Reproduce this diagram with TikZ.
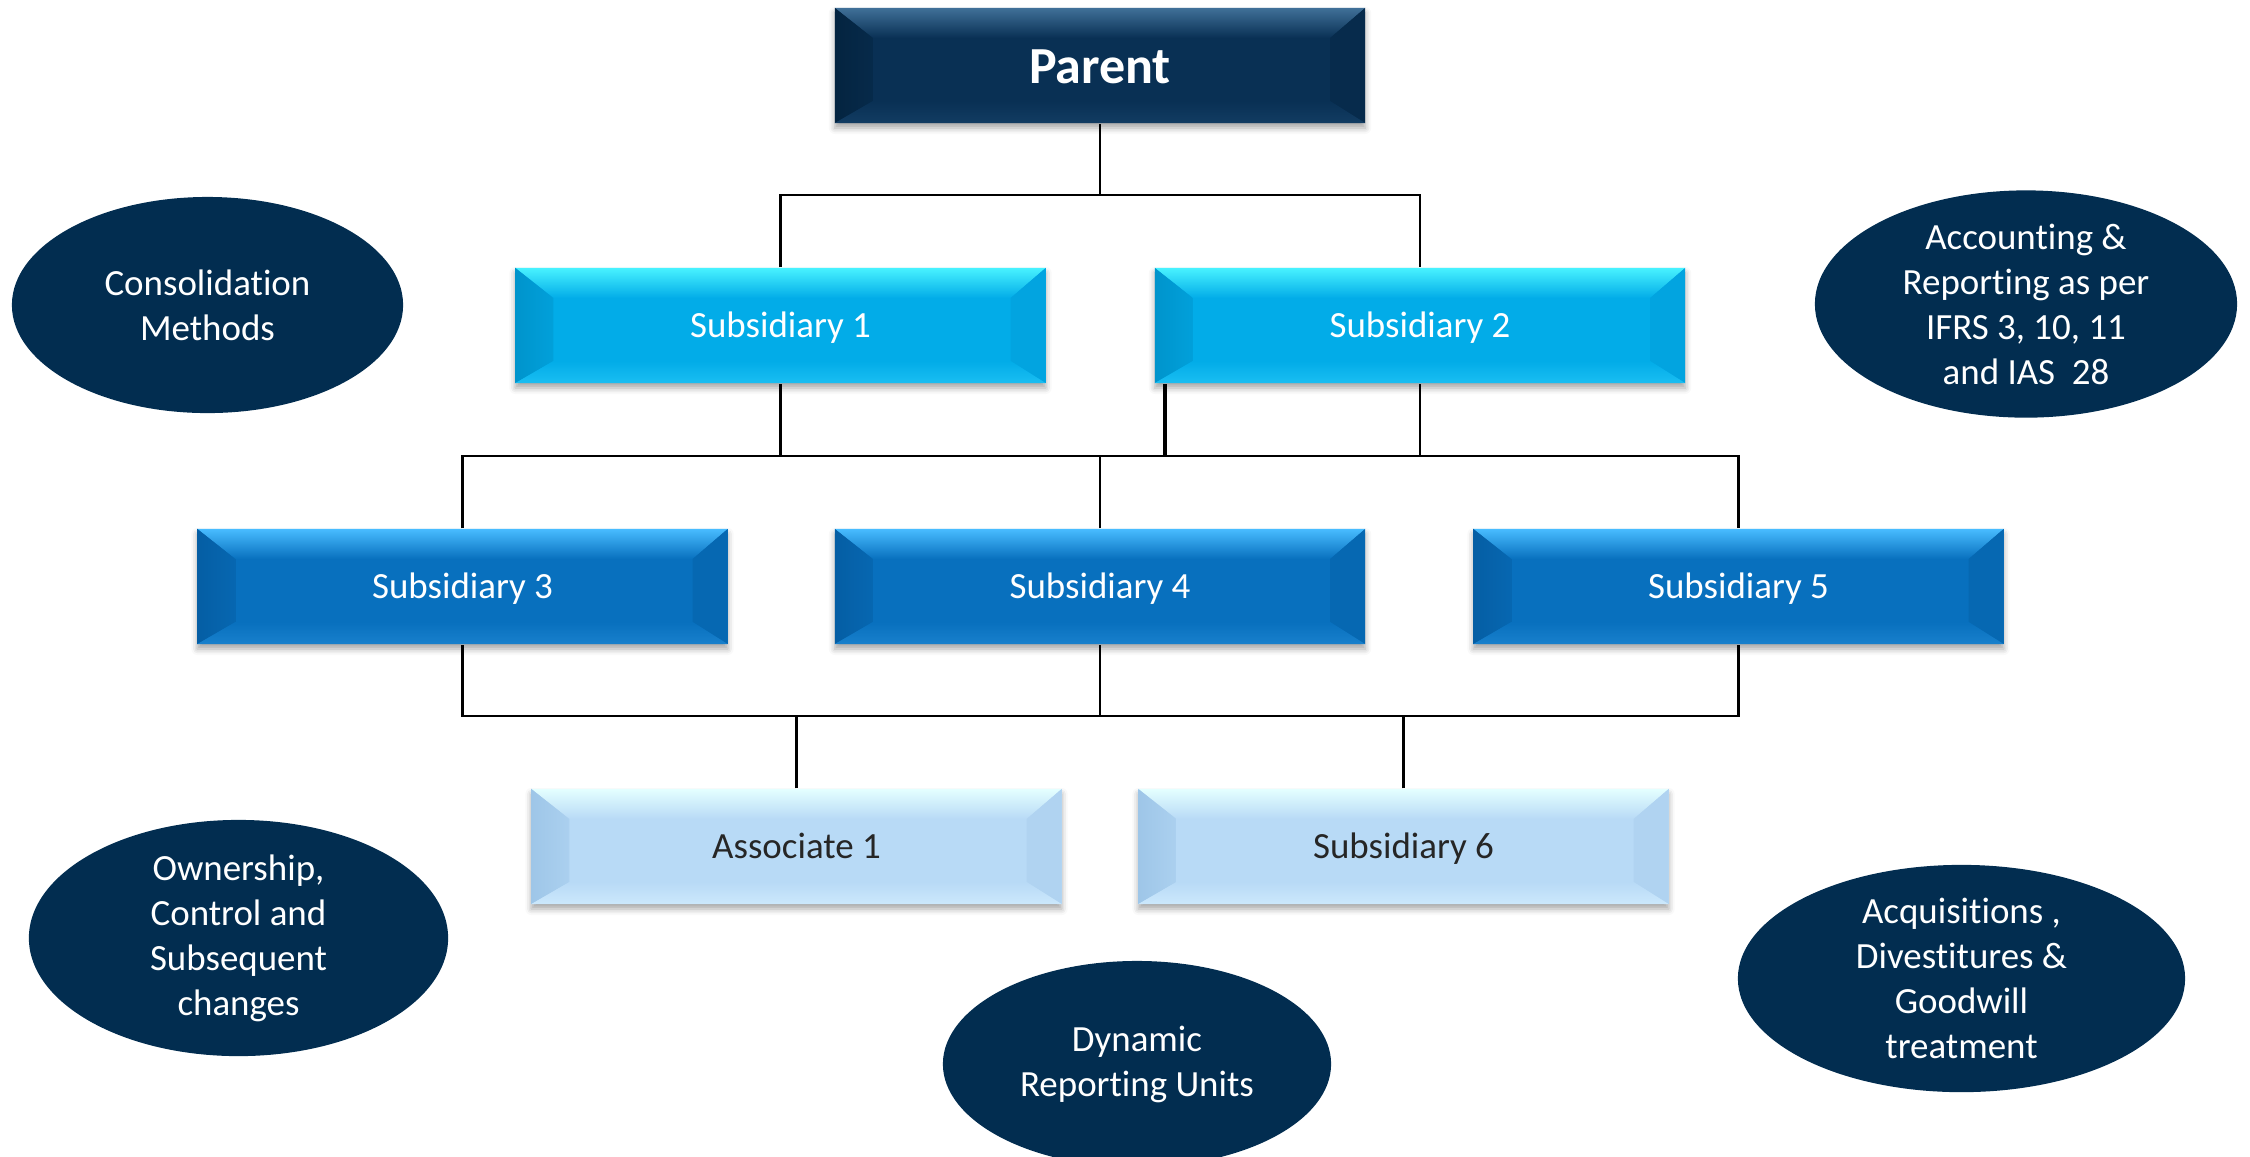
\documentclass[tikz,border=0pt]{standalone}
\usepackage{fontspec}
\setmainfont{Carlito}[Ligatures=NoCommon]
\usetikzlibrary{shapes.geometric,shadows.blur,calc}

\definecolor{navy}{RGB}{2,45,80}
\definecolor{pMain}{RGB}{9,48,84}
\definecolor{pTop}{RGB}{64,112,152}
\definecolor{pLeft}{RGB}{4,36,64}
\definecolor{pRight}{RGB}{7,43,76}
\definecolor{pBot}{RGB}{18,60,98}
\definecolor{cMain}{RGB}{2,172,232}
\definecolor{cTop}{RGB}{72,242,255}
\definecolor{cLeft}{RGB}{0,148,204}
\definecolor{cRight}{RGB}{2,164,224}
\definecolor{cBot}{RGB}{26,190,242}
\definecolor{bMain}{RGB}{8,112,190}
\definecolor{bTop}{RGB}{72,188,255}
\definecolor{bLeft}{RGB}{5,94,164}
\definecolor{bRight}{RGB}{6,104,178}
\definecolor{bBot}{RGB}{24,128,204}
\definecolor{lMain}{RGB}{184,218,246}
\definecolor{lTop}{RGB}{228,255,255}
\definecolor{lLeft}{RGB}{158,198,232}
\definecolor{lRight}{RGB}{176,211,241}
\definecolor{lBot}{RGB}{204,232,252}
\definecolor{darktext}{RGB}{38,38,38}

\tikzset{
  bevelbox/.style n args={5}{
    rectangle, minimum width=5.3cm, minimum height=1.15cm, inner sep=0pt,
    text height=8pt, text depth=1.2pt,
    fill=#1,
    blur shadow={shadow xshift=0pt, shadow yshift=-0.05cm, shadow blur radius=0.06cm, shadow opacity=35},
    path picture={
      \coordinate (bnw) at (path picture bounding box.north west);
      \coordinate (bne) at (path picture bounding box.north east);
      \coordinate (bsw) at (path picture bounding box.south west);
      \coordinate (bse) at (path picture bounding box.south east);
      \shade[top color=#2, bottom color=#1]
        (bnw) -- (bne) -- ($(bne)+(-0.35cm,-0.3cm)$) -- ($(bnw)+(0.38cm,-0.3cm)$) -- cycle;
      \shade[left color=#3, right color=#3!50!#1]
        (bnw) -- ($(bnw)+(0.38cm,-0.3cm)$) -- ($(bsw)+(0.38cm,0.22cm)$) -- (bsw) -- cycle;
      \fill[#4]
        (bne) -- (bse) -- ($(bse)+(-0.35cm,0.22cm)$) -- ($(bne)+(-0.35cm,-0.3cm)$) -- cycle;
      \shade[top color=#1, bottom color=#5]
        (bsw) -- (bse) -- ($(bse)+(-0.35cm,0.22cm)$) -- ($(bsw)+(0.38cm,0.22cm)$) -- cycle;
    }
  },
  parentbox/.style={bevelbox={pMain}{pTop}{pLeft}{pRight}{pBot}, text=white,
    font=\fontsize{14.8}{17}\selectfont\bfseries, text height=10.5pt, text depth=0pt},
  cyanbox/.style={bevelbox={cMain}{cTop}{cLeft}{cRight}{cBot}, text=white,
    font=\fontsize{10.5}{12.8}\selectfont},
  bluebox/.style={bevelbox={bMain}{bTop}{bLeft}{bRight}{bBot}, text=white,
    font=\fontsize{10.5}{12.8}\selectfont},
  lightbox/.style={bevelbox={lMain}{lTop}{lLeft}{lRight}{lBot}, text=darktext,
    font=\fontsize{10.5}{12.8}\selectfont},
  oval/.style={ellipse, fill=navy, text=white, align=center, inner sep=0pt,
    font=\fontsize{10.5}{12.8}\selectfont},
  conn/.style={draw=black, line width=0.8pt},
  thickconn/.style={draw=black, line width=1.3pt}
}

\begin{document}
\begin{tikzpicture}[x=0.01cm, y=-0.01cm]
\useasboundingbox (0,0) rectangle (2250,1156);

% ellipses
\node[oval, minimum width=3.91cm, minimum height=2.16cm] (cons) at (207.5,305) {Consolidation\\Methods};
\node[oval, minimum width=4.22cm, minimum height=2.16cm] (acct) at (2026,304) {Accounting \&\\Reporting as per\\IFRS 3, 10, 11\\and IAS\ \ 28};
\node[oval, minimum width=4.19cm, minimum height=2.18cm] (own) at (238.5,938) {Ownership,\\Control and\\Subsequent\\changes};
\node[oval, minimum width=3.88cm, minimum height=2.06cm] (dyn) at (1137,1064) {Dynamic\\Reporting Units};
\node[oval, minimum width=4.47cm, minimum height=2.17cm] (acq) at (1961.5,978.5) {Acquisitions ,\\Divestitures \&\\Goodwill\\treatment};

% connector buses
\coordinate (bus1) at (1100,195);
\coordinate (bus2) at (1100,456);
\coordinate (bus3) at (1100,716);

% boxes
\node[parentbox] (parent) at (1100,65.5) {Parent};
\node[cyanbox] (sub1) at (780.5,325.5) {Subsidiary 1};
\node[cyanbox] (sub2) at (1420,325.5) {Subsidiary 2};
\node[bluebox] (sub3) at (462.5,586.5) {Subsidiary 3};
\node[bluebox] (sub4) at (1100,586.5) {Subsidiary 4};
\node[bluebox] (sub5) at (1738.5,586.5) {Subsidiary 5};
\node[lightbox] (assoc) at (796.5,846.5) {Associate 1};
\node[lightbox] (sub6) at (1403.5,846.5) {Subsidiary 6};

% connectors
\draw[conn] (parent.south) -- (bus1);
\draw[conn] (sub1.north) |- (bus1) -| (sub2.north);
\draw[conn] (sub1.south) -- (sub1.south |- bus2);
\draw[conn] (sub2.south) -- (sub2.south |- bus2);
\coordinate (s2k) at ($(sub2.south west)+(0.11cm,0)$);
\draw[thickconn] (s2k) -- (s2k |- bus2);
\draw[conn] (sub3.north) |- (bus2) -| (sub5.north);
\draw[conn] (sub4.north) -- (bus2);
\draw[conn] (sub3.south) |- (bus3) -| (sub5.south);
\draw[conn] (sub4.south) -- (bus3);
\draw[conn] (assoc.north) -- (assoc.north |- bus3);
\draw[conn] (sub6.north) -- (sub6.north |- bus3);
\end{tikzpicture}
\end{document}
